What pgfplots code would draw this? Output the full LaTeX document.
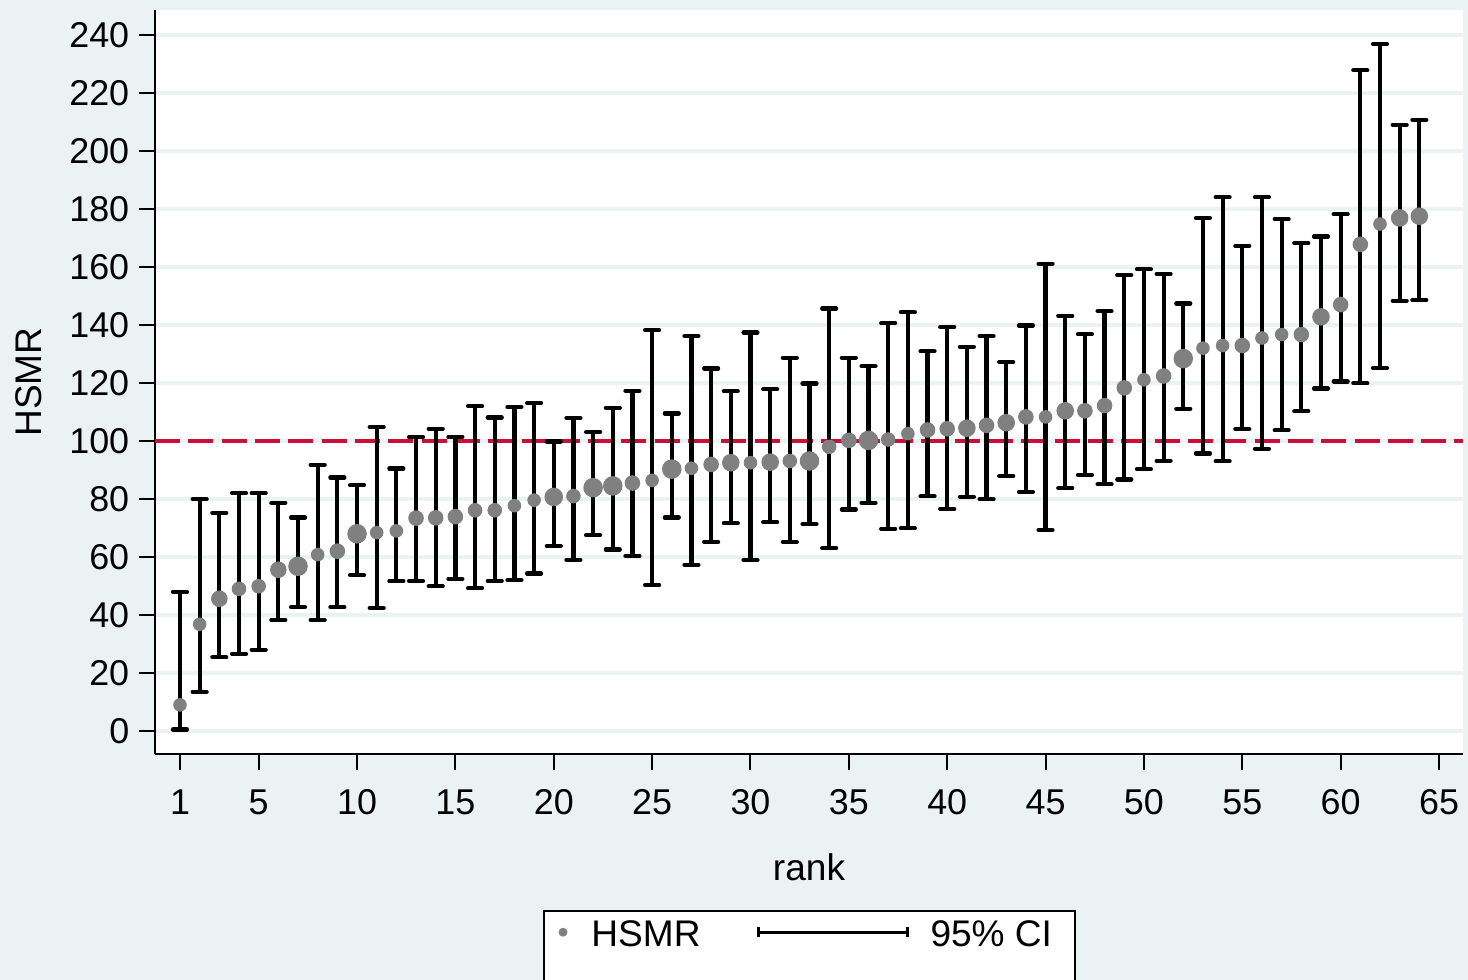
\documentclass[border=0pt]{standalone}
\usepackage{fontspec}
\setmainfont{Liberation Sans}
\usepackage{pgfplots}
\pgfplotsset{compat=1.18}
\usepackage{pgfplotstable}
\definecolor{bgcol}{RGB}{234,242,243}
\definecolor{gridcol}{RGB}{234,242,243}
\definecolor{dotgray}{RGB}{128,128,128}
\definecolor{refred}{RGB}{200,16,56}
\pgfplotstableread{
rank y lo hi r
1 9.0 0.5 48.0 6
2 36.8 13.5 80.0 6
3 45.6 25.4 75.2 7.5
4 49.0 26.6 82.0 6.5
5 49.9 28.0 82.0 6.5
6 55.6 38.3 78.7 7.5
7 56.8 42.7 73.6 9
8 60.8 38.3 91.8 6
9 62.0 42.7 87.4 7
10 68.0 53.7 84.7 9
11 68.4 42.4 104.8 6
12 69.0 51.7 90.5 6
13 73.4 51.7 101.3 7
14 73.5 49.9 104.2 7
15 73.9 52.4 101.4 7
16 76.1 49.2 112.0 6.5
17 76.1 51.8 108.1 6.5
18 77.7 52.0 111.7 6
19 79.6 54.3 113.1 6
20 80.7 63.8 99.8 8.5
21 81.0 59.0 107.9 6.5
22 83.9 67.5 103.1 9
23 84.5 62.6 111.5 9
24 85.5 60.4 117.3 7
25 86.4 50.4 138.2 6
26 90.3 73.6 109.5 9
27 90.6 57.3 136.2 6
28 91.9 65.2 125.0 7
29 92.5 71.6 117.2 8
30 92.5 59.0 137.4 6
31 92.7 72.0 117.8 8
32 93.1 65.2 128.7 6.5
33 93.1 71.3 119.8 9
34 98.0 63.0 145.7 6.5
35 100.2 76.4 128.7 7
36 100.2 78.7 125.8 9
37 100.5 69.7 140.6 6.5
38 102.5 69.9 144.4 6
39 103.8 80.9 130.9 7
40 104.2 76.6 139.3 7
41 104.4 80.8 132.5 8
42 105.4 79.9 136.2 7
43 106.3 87.9 127.2 8
44 108.3 82.5 139.8 7
45 108.3 69.3 161.1 6
46 110.4 83.7 143.2 8
47 110.4 88.3 136.8 7
48 112.2 85.1 144.8 7
49 118.3 86.7 157.2 7
50 121.1 90.2 159.2 6
51 122.4 93.2 157.6 7
52 128.4 111.1 147.4 9
53 132.0 95.7 176.9 6
54 132.9 93.0 184.0 6
55 132.9 104.1 167.3 7
56 135.5 97.3 184.0 6
57 136.7 103.7 176.5 6
58 136.7 110.2 168.2 7
59 142.8 118.1 170.5 8
60 147.0 120.5 178.2 7
61 167.8 119.9 227.8 7
62 174.8 125.2 236.9 6
63 176.9 148.3 209.0 8
64 177.5 148.6 210.7 8
}\hsmr
\begin{document}
\begin{tikzpicture}
\fill[bgcol] (-38.75bp,-56.5bp) rectangle (328.25bp,188.5bp);
% legend frame (open at the bottom, cut by the page edge)
\filldraw[fill=white, draw=black, line width=0.5bp] (97.15bp,-39.2bp) rectangle (229.9bp,-70bp);
\begin{axis}[
  at={(0,0)}, anchor=south west,
  scale only axis, width=327bp, height=186bp,
  xmin=-0.27, xmax=66.22, ymin=-7.93, ymax=248.6,
  axis background/.style={fill=white},
  axis x line*=bottom, axis y line*=left,
  axis line style={-, black, line width=0.5bp},
  xtick={1,5,10,15,20,25,30,35,40,45,50,55,60,65},
  ytick={0,20,40,60,80,100,120,140,160,180,200,220,240},
  tick align=outside, major tick length=4bp,
  tick style={black, line width=0.5bp},
  ymajorgrids, grid style={gridcol, line width=1bp},
  ticklabel style={font=\fontsize{9}{10}\selectfont},
  /pgf/number format/assume math mode=true,
  yticklabel style={anchor=east, inner sep=0pt, xshift=-2.25bp},
  xticklabel style={anchor=north, inner sep=0pt, yshift=-4.75bp},
  xlabel={rank}, ylabel={HSMR},
  label style={font=\fontsize{9.3}{11}\selectfont},
  xlabel style={at={(axis description cs:0.5,0)}, anchor=base, inner sep=0pt, yshift=-31.5bp},
  ylabel style={at={(axis description cs:-0.0864,0.5)}, anchor=base, inner sep=0pt},
  legend style={at={(axis description cs:0.2971,-0.2108)}, anchor=north west,
    draw=none, fill=none,
    inner xsep=0pt, inner ysep=0pt,
    font=\fontsize{9.3}{11}\selectfont,
    nodes={inner sep=0pt},
    /tikz/column sep=0pt,
    /tikz/every even column/.append style={column sep=14.15bp}},
  legend columns=2, legend cell align=left,
]
\addlegendimage{legend image code/.code={
  \path[draw=none, fill=none] (-4.65bp,-3.5bp) -- (7.1bp,-3.5bp);
  \fill[dotgray] (0,0) circle (0.9bp);}}
\addlegendentry{\rule[-15bp]{0pt}{23.8bp}HSMR}
\addlegendimage{legend image code/.code={
  \path[draw=none, fill=none] (0,-3.5bp) -- (43bp,-3.5bp);
  \draw[black, line width=0.7bp] (0,0) -- (37.25bp,0);
  \draw[black, line width=0.7bp] (0,-1.25bp) -- (0,1.25bp);
  \draw[black, line width=0.7bp] (37.25bp,-1.25bp) -- (37.25bp,1.25bp);}}
\addlegendentry{\rule[-15bp]{0pt}{23.8bp}95\% CI\rule{5.4bp}{0pt}}

\addplot[forget plot, refred, line width=1bp, dash pattern=on 6.25bp off 2.08bp]
  coordinates {(-0.27,100) (66.22,100)};

\addplot[forget plot, draw=none, mark=none,
  error bars/.cd, y dir=both, y explicit,
  error bar style={draw=black, line width=1.05bp, solid},
  error mark options={draw=black, rotate=90, line width=1.05bp, mark size=1.75bp, line cap=round}]
  table[x=rank, y=y, y error plus expr=\thisrow{hi}-\thisrow{y}, y error minus expr=\thisrow{y}-\thisrow{lo}] {\hsmr};

\addplot[forget plot, scatter, only marks, mark=*,
  mark options={draw=dotgray, fill=dotgray},
  visualization depends on={0.25*\thisrow{r} \as \rad},
  scatter/@pre marker code/.code={\scope[color=dotgray, draw=dotgray, fill=dotgray, mark size=\rad]},
  scatter/@post marker code/.code={\endscope}]
  table[x=rank, y=y, meta=r] {\hsmr};
\end{axis}
\pgfresetboundingbox
\path (-38.75bp,-56.5bp) rectangle (328.25bp,188.5bp);
\end{tikzpicture}
\end{document}
